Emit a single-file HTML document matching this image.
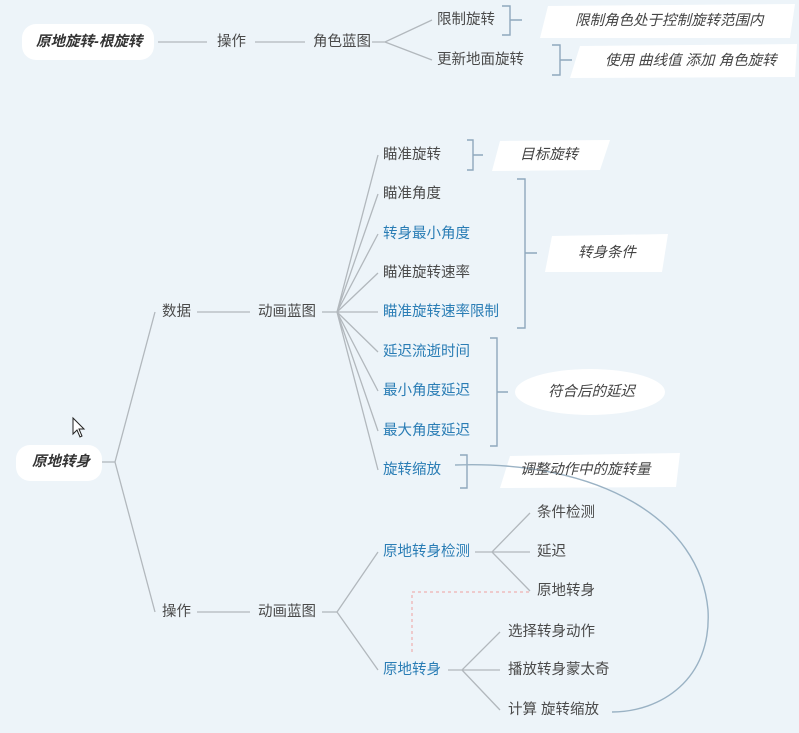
<!DOCTYPE html>
<html><head><meta charset="utf-8"><style>
html,body{margin:0;padding:0;background:#edf4f9;}
svg{display:block}
text{font-family:"Liberation Sans","Noto Sans CJK SC",sans-serif;font-size:14.5px;fill:#4a4a4a;dominant-baseline:middle}
.b{fill:#2a7db5}
.i{font-style:italic;fill:#444}
.r{font-weight:bold;font-style:italic;fill:#333}
</style></head><body>
<svg width="799" height="733" viewBox="0 0 799 733" xmlns="http://www.w3.org/2000/svg">
<rect width="799" height="733" fill="#edf4f9"/>
<g fill="#fff">
<rect x="22" y="24" width="132" height="36" rx="14"/>
<polygon points="548,6 795,4 790,38 540,38"/>
<polygon points="580,46 797,44 795,77 570,78"/>
<rect x="16" y="445" width="86" height="36" rx="14"/>
<polygon points="500,141 610,140 600,170 492,171"/>
<polygon points="552,236 668,234 662,272 545,272"/>
<ellipse cx="590" cy="392" rx="75" ry="23"/>
<polygon points="510,456 680,453 676,487 500,488"/>
</g>
<g stroke="#b2b8bd" stroke-width="1.3" fill="none">
<line x1="158" y1="42" x2="207" y2="42"/><line x1="255" y1="42" x2="305" y2="42"/>
<path d="M372 42 H385 L432 20 M385 42 L432 60"/>
<line x1="102" y1="462" x2="115" y2="462"/>
<path d="M155 312 L115 462 L155 612"/>
<line x1="197" y1="312" x2="250" y2="312"/><line x1="197" y1="612" x2="250" y2="612"/>
<line x1="322" y1="312" x2="337" y2="312"/><line x1="322" y1="612" x2="337" y2="612"/>
<path d="M337 312 L378 155 M337 312 L378 194 M337 312 L378 234 M337 312 L378 273 M337 312 L378 312 M337 312 L378 352 M337 312 L378 391 M337 312 L378 431 M337 312 L378 470"/>
<path d="M337 612 L378 552 M337 612 L378 670"/>
<path d="M475 552 H492 L530 513 M492 552 H530 M492 552 L530 591"/>
<path d="M448 670 H462 L500 632 M462 670 H500 M462 670 L500 710"/>
</g>
<g stroke="#8fa8bd" stroke-width="1.4" fill="none">
<path d="M502 6 H510 V35 H502 M510 20 H522"/>
<path d="M552 45 H560 V75 H552 M560 60 H572"/>
<path d="M467 140 H473 V170 H467 M473 155 H483"/>
<path d="M517 179 H525 V328 H517 M525 253 H537"/>
<path d="M490 338 H497 V446 H490 M497 392 H508"/>
<path d="M460 455 H467 V488 H460"/>
<path d="M455 465 C 600 460, 700 520, 708 610 C 712 680, 660 712, 612 712" stroke="#9ab2c4"/>
</g>
<path d="M412 652 V592 H530" stroke="#f0a0a0" stroke-width="1" stroke-dasharray="3,3" fill="none"/>
<text x="36" y="42" class="r">原地旋转-根旋转</text>
<text x="217" y="42">操作</text>
<text x="313" y="42">角色蓝图</text>
<text x="437" y="20">限制旋转</text>
<text x="437" y="60">更新地面旋转</text>
<text x="575" y="21" class="i">限制角色处于控制旋转范围内</text>
<text x="605" y="61" class="i">使用 曲线值 添加 角色旋转</text>
<text x="32" y="462" class="r">原地转身</text>
<text x="162" y="312">数据</text>
<text x="258" y="312">动画蓝图</text>
<text x="162" y="612">操作</text>
<text x="258" y="612">动画蓝图</text>
<text x="383" y="155">瞄准旋转</text>
<text x="383" y="194">瞄准角度</text>
<text x="383" y="234" class="b">转身最小角度</text>
<text x="383" y="273">瞄准旋转速率</text>
<text x="383" y="312" class="b">瞄准旋转速率限制</text>
<text x="383" y="352" class="b">延迟流逝时间</text>
<text x="383" y="391" class="b">最小角度延迟</text>
<text x="383" y="431" class="b">最大角度延迟</text>
<text x="383" y="470" class="b">旋转缩放</text>
<text x="520" y="155" class="i">目标旋转</text>
<text x="578" y="253" class="i">转身条件</text>
<text x="548" y="392" class="i">符合后的延迟</text>
<text x="520" y="470" class="i">调整动作中的旋转量</text>
<text x="383" y="552" class="b">原地转身检测</text>
<text x="537" y="513">条件检测</text>
<text x="537" y="552">延迟</text>
<text x="537" y="591">原地转身</text>
<text x="383" y="670" class="b">原地转身</text>
<text x="508" y="632">选择转身动作</text>
<text x="508" y="670">播放转身蒙太奇</text>
<text x="508" y="710">计算 旋转缩放</text>
<path d="M73 418 V434 L77 430 L80 437 L82 436 L79 429 L84 429 Z" fill="#fff" stroke="#222" stroke-width="1"/>
</svg>
</body></html>
